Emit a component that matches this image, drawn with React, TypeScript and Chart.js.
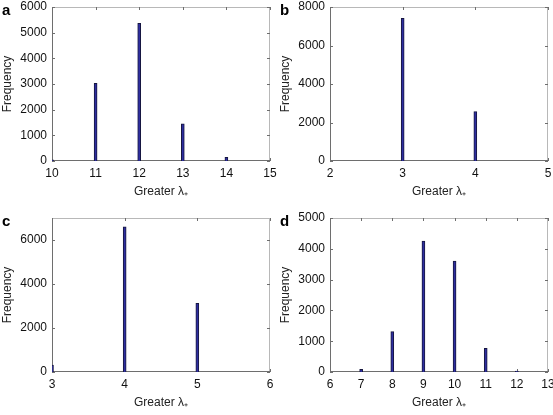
import React, { useEffect, useRef } from "react";
import { Chart, registerables } from "chart.js";

Chart.register(...registerables);

// Panel a
const xA = [10, 11, 12, 13, 14];
const yA = [50, 3030, 5360, 1450, 140];
// Panel b
const xB = [3, 4];
const yB = [7410, 2570];
// Panel c
const xC = [3, 4, 5];
const yC = [310, 6600, 3120];
// Panel d
const xD = [7, 8, 9, 10, 11, 12];
const yD = [90, 1310, 4250, 3600, 765, 30];

// y tick labels per panel
const yTicksA = [0, 1000, 2000, 3000, 4000, 5000, 6000];
const yTicksB = [0, 2000, 4000, 6000, 8000];
const yTicksC = [0, 2000, 4000, 6000];
const yTicksD = [0, 1000, 2000, 3000, 4000, 5000];

const X_TITLE = "Greater λ₊";
const Y_TITLE = "Frequency";
const FONT = "'Liberation Sans', Arial, Helvetica, sans-serif";

const frame = {
  id: "matlabFrame",
  beforeDatasetsDraw(chart: any) {
    const { ctx, chartArea } = chart;
    const { left, right, top, bottom } = chartArea;
    const xs = chart.scales.x;
    const ys = chart.scales.y;
    ctx.save();
    ctx.lineWidth = 1;
    ctx.strokeStyle = "#b8b8b8";
    ctx.beginPath();
    ctx.moveTo(left, top + 0.5);
    ctx.lineTo(right, top + 0.5);
    ctx.moveTo(right - 0.5, top);
    ctx.lineTo(right - 0.5, bottom);
    ctx.stroke();
    ctx.strokeStyle = "#6e6e6e";
    ctx.beginPath();
    ctx.moveTo(left + 0.5, top);
    ctx.lineTo(left + 0.5, bottom);
    ctx.moveTo(left, bottom - 0.5);
    ctx.lineTo(right, bottom - 0.5);
    ctx.stroke();
    ctx.beginPath();
    xs.ticks.forEach((t: any) => {
      const p = Math.round(xs.getPixelForValue(t.value)) + 0.5;
      ctx.moveTo(p, bottom);
      ctx.lineTo(p, bottom - 3);
      ctx.moveTo(p, top);
      ctx.lineTo(p, top + 3);
    });
    ys.ticks.forEach((t: any) => {
      const p = Math.round(ys.getPixelForValue(t.value)) + 0.5;
      ctx.moveTo(left, p);
      ctx.lineTo(left + 3, p);
      ctx.moveTo(right, p);
      ctx.lineTo(right - 3, p);
    });
    ctx.stroke();
    ctx.restore();
  },
};

type PanelProps = {
  label: string;
  xs: number[];
  ys: number[];
  xmin: number;
  xmax: number;
  ymax: number;
  yticks: number[];
  left: number;
  top: number;
  width: number;
  padRight: number;
};

function Panel(p: PanelProps) {
  const ref = useRef<HTMLCanvasElement | null>(null);
  useEffect(() => {
    if (!ref.current) return;
    const chart = new Chart(ref.current, {
      type: "bar",
      data: {
        datasets: [
          {
            data: p.xs.map((x, i) => ({ x, y: p.ys[i] })),
            backgroundColor: "#2e2ea0",
            borderColor: "#16163e",
            borderWidth: { left: 1, right: 1, top: 1, bottom: 0 },
            barThickness: 3,
            clip: { left: 0, right: 0, top: false, bottom: 0 },
          } as any,
        ],
      },
      options: {
        animation: false,
        responsive: false,
        maintainAspectRatio: false,
        layout: { padding: { top: 7, right: p.padRight, left: 0, bottom: 0 } },
        plugins: { legend: { display: false }, tooltip: { enabled: false } },
        scales: {
          x: {
            type: "linear",
            min: p.xmin,
            max: p.xmax,
            offset: false,
            grid: { display: false, drawTicks: false },
            border: { display: false },
            ticks: {
              stepSize: 1,
              autoSkip: false,
              maxRotation: 0,
              padding: 5,
              color: "#111",
              font: { family: FONT, size: 12 },
              callback: (v: any) => String(v),
            },
            title: {
              display: true,
              text: X_TITLE,
              color: "#222",
              font: { family: FONT, size: 12 },
              padding: { top: 0, bottom: 5 },
            },
            afterFit: (s: any) => {
              s.height = 43;
              s.paddingLeft = 0;
              s.paddingRight = 0;
            },
          },
          y: {
            type: "linear",
            min: 0,
            max: p.ymax,
            grid: { display: false, drawTicks: false },
            border: { display: false },
            afterBuildTicks: (s: any) => {
              s.ticks = p.yticks.map((v) => ({ value: v }));
            },
            ticks: {
              padding: 5,
              color: "#111",
              font: { family: FONT, size: 12 },
              callback: (v: any) => String(v),
            },
            title: {
              display: true,
              text: Y_TITLE,
              color: "#222",
              font: { family: FONT, size: 12 },
              padding: { top: 0, bottom: 0 },
            },
            afterFit: (s: any) => {
              s.width = 52;
              s.paddingTop = 0;
              s.paddingBottom = 0;
            },
          },
        },
      } as any,
      plugins: [frame],
    });
    return () => chart.destroy();
  }, []);
  return (
    <>
      <canvas
        ref={ref}
        width={p.width}
        height={204}
        style={{ position: "absolute", left: p.left, top: p.top, width: p.width, height: 204 }}
      />
      <div
        style={{
          position: "absolute",
          left: p.left + 2,
          top: p.top + 3,
          fontFamily: FONT,
          fontWeight: "bold",
          fontSize: 15,
          lineHeight: "14px",
          color: "#000",
        }}
      >
        {p.label}
      </div>
    </>
  );
}

export default function App() {
  useEffect(() => {
    document.body.style.margin = "0";
    document.body.style.overflow = "hidden";
    document.body.style.background = "#fff";
  }, []);
  return (
    <div style={{ position: "relative", width: 553, height: 415, overflow: "hidden", background: "#fff" }}>
      <Panel label="a" xs={xA} ys={yA} xmin={10} xmax={15} ymax={6000} yticks={yTicksA} left={0} top={0} width={290} padRight={20} />
      <Panel label="b" xs={xB} ys={yB} xmin={2} xmax={5} ymax={8000} yticks={yTicksB} left={278} top={0} width={275} padRight={5} />
      <Panel label="c" xs={xC} ys={yC} xmin={3} xmax={6} ymax={7000} yticks={yTicksC} left={0} top={211} width={290} padRight={20} />
      <Panel label="d" xs={xD} ys={yD} xmin={6} xmax={13} ymax={5000} yticks={yTicksD} left={278} top={211} width={275} padRight={5} />
    </div>
  );
}
